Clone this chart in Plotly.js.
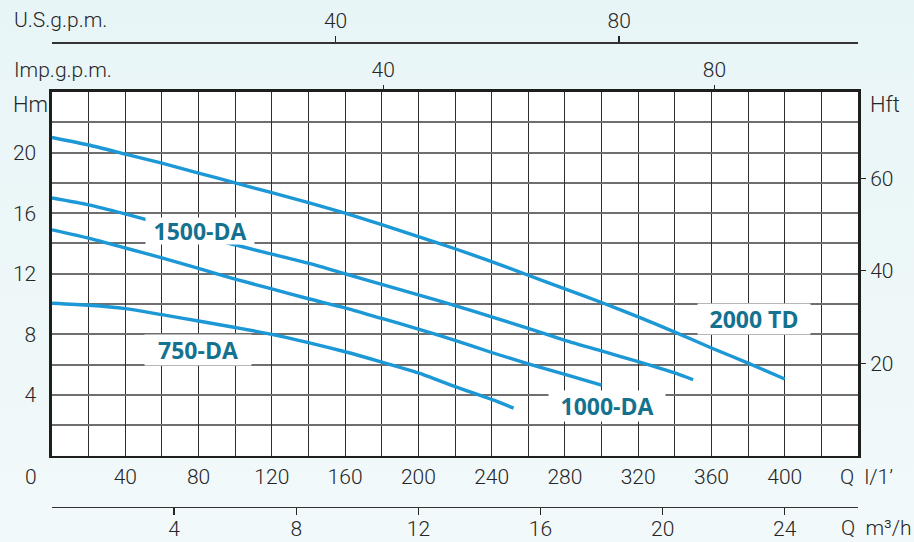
<!DOCTYPE html>
<html><head><meta charset="utf-8">
<script src="https://cdn.plot.ly/plotly-3.0.1.min.js"></script>
<style>
html,body{margin:0;padding:0;}
body{width:914px;height:542px;overflow:hidden;background:linear-gradient(180deg,#e8f5f7 0%,#f2f9fa 100%);}
#chart{width:914px;height:542px;}
</style></head><body><div id="chart"></div>
<script>
// Flow Q in l/min, head H in m
const q2000 = [0,20,40,60,80,100,120,140,160,180,200,220,240,260,280,300,320,340,360,380,400];
const h2000 = [21.0,20.5,19.9,19.3,18.65,18.0,17.35,16.7,16.0,15.25,14.45,13.65,12.8,11.9,11.0,10.1,9.15,8.15,7.1,6.1,5.05];

const q1500 = [0,20,40,60,80,100,120,140,160,180,200,220,240,260,280,300,320,340,350];
const h1500 = [17.0,16.55,15.95,15.3,14.6,13.9,13.3,12.7,12.0,11.3,10.6,9.9,9.15,8.4,7.6,6.9,6.2,5.45,5.0];

const q1000 = [0,20,40,60,80,100,120,140,160,180,200,220,240,260,280,300];
const h1000 = [14.9,14.35,13.7,13.05,12.35,11.65,11.0,10.35,9.75,9.05,8.35,7.6,6.8,6.05,5.35,4.65];

const q750 = [0,20,40,60,80,100,120,140,160,180,200,220,240,252];
const h750 = [10.05,9.92,9.7,9.3,8.88,8.45,8.0,7.45,6.85,6.17,5.45,4.55,3.7,3.13];

const seriesNames = ['2000 TD','1500-DA','1000-DA','750-DA'];
// label anchor points (l/min, m)
const labelQ = [383, 81, 303, 79.6];
const labelH = [9.0, 14.8, 3.3, 6.97];

// tick labels
const qTicks = [40,80,120,160,200,240,280,320,360,400];
const hTicks = [4,8,12,16,20];
const ftTicks = [20,40,60];
const usTicks = [40,80];
const impTicks = [40,80];
const m3Ticks = [4,8,12,16,20,24];

const qMax = 440, hMax = 24;
const ftPerM = 3.2808, lPerUS = 3.87, lPerImp = 4.52, lminPerM3h = 16.667;

const W = 914, Hh = 542, mL = 52, mR = 56;
const px2x = p => (p - mL) / (W - mL - mR);
const py2y = p => 1 - p / Hh;

const blue = '#1b98d5', teal = '#15728f', ink = '#262626';
const tickFont = {family:'Roboto, "Noto Sans", sans-serif', size:21, color:ink, weight:300};
const bigFont = {family:'Roboto, "Noto Sans", sans-serif', size:22, color:ink, weight:300};
const noGrid = 'rgba(0,0,0,0)';

const curves = [[q2000,h2000],[q1500,h1500],[q1000,h1000],[q750,h750]];
const traces = curves.map((c,i)=>({
  x:c[0], y:c[1], type:'scatter', mode:'lines', name:seriesNames[i],
  line:{color:blue, width:3.4, shape:'spline', smoothing:0.6},
  hoverinfo:'skip', showlegend:false
}));
// anchor traces for the extra scales
['x2','x3','x4'].forEach(ax=>traces.push({x:[], y:[], xaxis:ax, yaxis:'y', hoverinfo:'skip', showlegend:false}));
traces.push({x:[], y:[], xaxis:'x', yaxis:'y2', hoverinfo:'skip', showlegend:false});

const boxW = [112, 108, 116, 106];
const boxH = [30, 26, 30, 30];
const annotations = seriesNames.map((n,i)=>({
  x:labelQ[i], y:labelH[i], xref:'x', yref:'y', text:n, showarrow:false,
  font:{family:'"Open Sans", "Noto Sans", sans-serif', size:23, color:teal, weight:700},
  bgcolor:'#ffffff', width:boxW[i], height:boxH[i], borderpad:0
}));
const plain = (text, px, py, xanchor, font) => ({
  text, x:px2x(px), y:py2y(py), xref:'paper', yref:'paper', showarrow:false,
  xanchor, yanchor:'middle', font
});
annotations.push(plain('Hm', 11, 104, 'left', bigFont));
annotations.push(plain('Hft', 868, 104, 'left', bigFont));
annotations.push(plain('U.S.g.p.m.', 12, 20, 'left', tickFont));
annotations.push(plain('Imp.g.p.m.', 12, 70, 'left', tickFont));
annotations.push(plain('0', 31, 477, 'center', tickFont));
annotations.push(plain('Q  l/1’', 838, 477, 'left', tickFont));
annotations.push(plain('Q  m³/h', 839, 528, 'left', tickFont));

const extra = {showgrid:false, gridcolor:noGrid, zeroline:false, fixedrange:true,
  ticks:'outside', tickwidth:1.3, tickcolor:ink, tickfont:tickFont};

const layout = {
  width:W, height:Hh,
  margin:{l:mL, r:mR, t:0, b:0, pad:0},
  paper_bgcolor:'rgba(0,0,0,0)', plot_bgcolor:'#ffffff',
  showlegend:false,
  xaxis:{
    range:[0,qMax], tickvals:qTicks, ticks:'', tickfont:tickFont, ticklabelstandoff:1,
    showgrid:true, gridcolor:'#2e2e2e', gridwidth:1,
    minor:{dtick:20, tick0:0, showgrid:true, gridcolor:'#2e2e2e', gridwidth:1},
    showline:true, linecolor:'#1e1e1e', linewidth:2.6, mirror:true, zeroline:false, fixedrange:true
  },
  yaxis:{
    domain:[1-455.5/Hh, 1-92/Hh],
    range:[0,hMax], tickvals:hTicks, ticks:'', tickfont:tickFont, ticklabelstandoff:9,
    showgrid:true, gridcolor:'#6f6f6f', gridwidth:2,
    minor:{dtick:2, tick0:0, showgrid:true, gridcolor:'#6f6f6f', gridwidth:2},
    showline:true, linecolor:'#1e1e1e', linewidth:2.6, mirror:true, zeroline:false, fixedrange:true
  },
  xaxis2:Object.assign({}, extra, {
    overlaying:'x', side:'top', anchor:'y', range:[0,qMax/lPerImp], tickvals:impTicks,
    ticklen:6, showline:false
  }),
  xaxis3:Object.assign({}, extra, {
    overlaying:'x', side:'top', anchor:'free', position:py2y(42.3), range:[0,qMax/lPerUS], tickvals:usTicks,
    ticklen:6, showline:true, linecolor:'#333333', linewidth:1.4
  }),
  xaxis4:Object.assign({}, extra, {
    overlaying:'x', side:'bottom', anchor:'free', position:py2y(507), range:[0,qMax/lminPerM3h], tickvals:m3Ticks,
    ticklen:7, ticklabelstandoff:-5, showline:true, linecolor:'#333333', linewidth:1.4
  }),
  yaxis2:Object.assign({}, extra, {
    overlaying:'y', side:'right', anchor:'x', range:[0,hMax*ftPerM], tickvals:ftTicks,
    ticklen:7, showline:false
  }),
  annotations
};
Plotly.newPlot('chart', traces, layout, {staticPlot:true, displayModeBar:false});
</script></body></html>
